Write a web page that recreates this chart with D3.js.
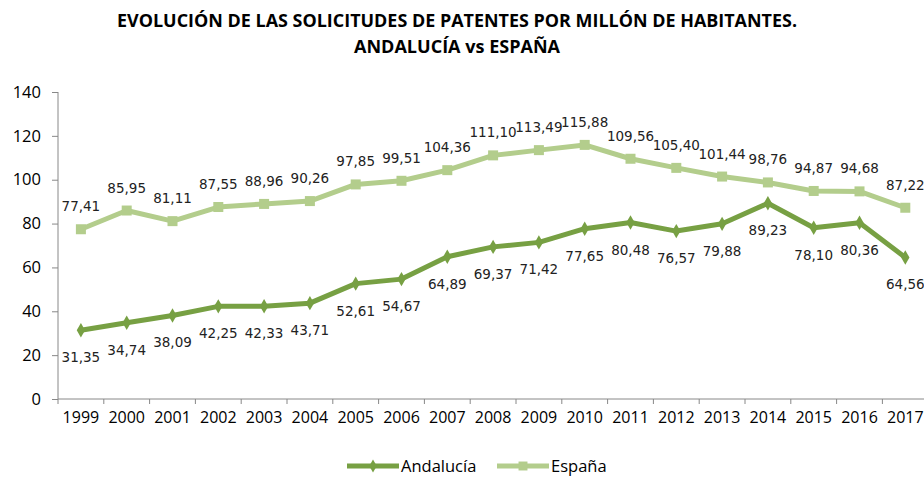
<!DOCTYPE html>
<html lang="es">
<head>
<meta charset="UTF-8">
<title>Solicitudes de patentes por millón de habitantes</title>
<script src="https://d3js.org/d3.v7.min.js"></script>
<style>
  body { margin: 0; background: #fff; }
  svg { display: block; font-family: "DejaVu Sans", sans-serif; }
</style>
</head>
<body>
<svg width="924" height="477"></svg>
<script>
const years = ["1999","2000","2001","2002","2003","2004","2005","2006","2007","2008","2009","2010","2011","2012","2013","2014","2015","2016","2017"];
const andalucia = [31.35,34.74,38.09,42.25,42.33,43.71,52.61,54.67,64.89,69.37,71.42,77.65,80.48,76.57,79.88,89.23,78.10,80.36,64.56];
const espana = [77.41,85.95,81.11,87.55,88.96,90.26,97.85,99.51,104.36,111.10,113.49,115.88,109.56,105.40,101.44,98.76,94.87,94.68,87.22];
const yTicks = [0,20,40,60,80,100,120,140];

const svg = d3.select("svg");
const darkGreen = "#77a043", lightGreen = "#b3cd8c";
const fmt = v => v.toFixed(2).replace(".", ",");

// title
svg.append("text")
    .attr("x", 457).attr("y", 27)
    .attr("text-anchor", "middle")
    .style("font-family", "'Open Sans', sans-serif")
    .style("font-weight", "bold").style("font-size", "17px")
    .attr("textLength", 680).attr("lengthAdjust", "spacingAndGlyphs")
    .text("EVOLUCIÓN DE LAS SOLICITUDES DE PATENTES POR MILLÓN DE HABITANTES.");
svg.append("text")
    .attr("x", 457).attr("y", 53)
    .attr("text-anchor", "middle")
    .style("font-family", "'Open Sans', sans-serif")
    .style("font-weight", "bold").style("font-size", "17px")
    .attr("textLength", 206).attr("lengthAdjust", "spacingAndGlyphs")
    .text("ANDALUCÍA vs ESPAÑA");

const x = d3.scaleBand().domain(years).range([58, 58 + 19 * 45.8]);
const y = d3.scaleLinear().domain([0, 140]).range([399, 92]);

// y axis
const yAxis = svg.append("g").attr("transform", "translate(58,0)")
    .call(d3.axisLeft(y).tickValues(yTicks).tickSize(6).tickPadding(11));
yAxis.select(".domain").attr("stroke", "#888").attr("d", "M0,92V399");
yAxis.selectAll(".tick line").attr("stroke", "#888");
yAxis.selectAll(".tick text").attr("fill", "#000")
    .style("font-family", "'Open Sans', sans-serif").style("font-size", "16.5px");

// x axis
const xAxis = svg.append("g").attr("transform", "translate(0,399)")
    .call(d3.axisBottom(x).tickSize(0).tickPadding(13));
xAxis.select(".domain").attr("stroke", "#888").attr("d", "M58,0H924");
xAxis.selectAll(".tick text").attr("fill", "#000")
    .style("font-family", "'Open Sans', sans-serif").style("font-size", "16px");
xAxis.selectAll(".sep").data(d3.range(20)).enter().append("line")
    .attr("x1", i => 58 + i * x.step()).attr("x2", i => 58 + i * x.step())
    .attr("y1", 0).attr("y2", 5).attr("stroke", "#888");

const cx = d => x(d) + x.bandwidth() / 2;
const line = d3.line().x((v, i) => cx(years[i])).y(v => y(v));

// España
svg.append("path").datum(espana)
    .attr("fill", "none").attr("stroke", lightGreen).attr("stroke-width", 5)
    .attr("stroke-linejoin", "round").attr("d", line);
svg.selectAll(".sq").data(espana).enter().append("rect")
    .attr("x", (v, i) => cx(years[i]) - 5).attr("y", v => y(v) - 5)
    .attr("width", 10).attr("height", 10).attr("fill", lightGreen);

// Andalucía
svg.append("path").datum(andalucia)
    .attr("fill", "none").attr("stroke", darkGreen).attr("stroke-width", 5)
    .attr("stroke-linejoin", "round").attr("d", line);
svg.selectAll(".dm").data(andalucia).enter().append("path")
    .attr("transform", (v, i) => `translate(${cx(years[i])},${y(v)})`)
    .attr("d", d3.symbol(d3.symbolDiamond, 60)).attr("fill", darkGreen);

// data labels
svg.selectAll(".le").data(espana).enter().append("text")
    .attr("x", (v, i) => cx(years[i])).attr("y", v => y(v) - 18)
    .attr("text-anchor", "middle").style("font-size", "13.5px").attr("fill", "#222")
    .text(fmt);
svg.selectAll(".la").data(andalucia).enter().append("text")
    .attr("x", (v, i) => cx(years[i])).attr("y", v => y(v) + 32)
    .attr("text-anchor", "middle").style("font-size", "13.5px").attr("fill", "#222")
    .text(fmt);

// legend
const legend = [{name: "Andalucía", c: darkGreen, x0: 347, sym: "d"}, {name: "España", c: lightGreen, x0: 497, sym: "s"}];
const lg = svg.selectAll(".lg").data(legend).enter().append("g")
    .attr("transform", d => `translate(${d.x0},466)`);
lg.append("line").attr("x1", 0).attr("x2", 52).attr("stroke", d => d.c).attr("stroke-width", 5);
lg.append("path").attr("transform", "translate(26,0)")
    .attr("d", d => d.sym === "d" ? d3.symbol(d3.symbolDiamond, 50)() : d3.symbol(d3.symbolSquare, 80)())
    .attr("fill", d => d.c);
lg.append("text").attr("x", 54).attr("y", 6)
    .style("font-family", "'Open Sans', sans-serif").style("font-size", "16.5px")
    .text(d => d.name);
</script>
</body>
</html>
